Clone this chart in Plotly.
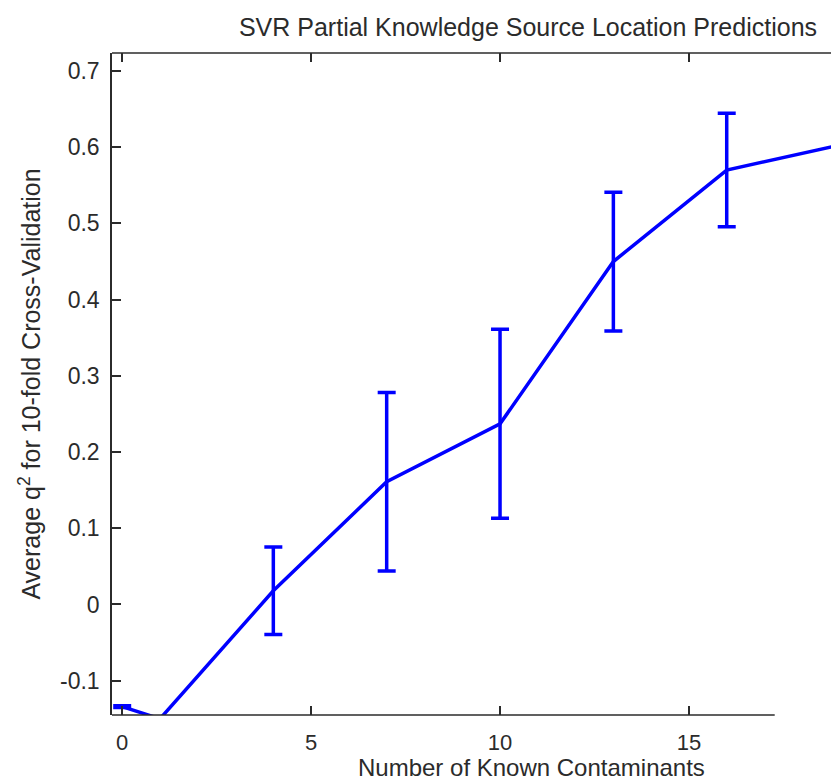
import plotly.graph_objects as go

# data
known = [0, 1, 4, 7, 10, 13, 16, 19]
avg_q2 = [-0.134, -0.150, 0.018, 0.161, 0.237, 0.450, 0.570, 0.603]
err = [0.001, 0.001, 0.0575, 0.117, 0.124, 0.091, 0.0745, 0.068]

x_ticks = [0, 5, 10, 15]
x_tick_text = ["0", "5", "10", "15"]
y_ticks = [-0.1, 0, 0.1, 0.2, 0.3, 0.4, 0.5, 0.6, 0.7]
y_tick_text = ["-0.1", "0", "0.1", "0.2", "0.3", "0.4", "0.5", "0.6", "0.7"]

BLUE = "#0000FF"
AX = "#2b2b2b"
FONT = "Liberation Sans, Arial, sans-serif"

fig = go.Figure()
fig.add_trace(go.Scatter(
    x=known, y=avg_q2, mode="lines",
    line=dict(color=BLUE, width=3.5),
    error_y=dict(type="data", array=err, visible=True, color=BLUE,
                 thickness=3.5, width=9),
    showlegend=False,
))

XR = [-0.27, 18.76]
fig.update_layout(
    width=831, height=783, autosize=False,
    margin=dict(l=112, r=0, t=53, b=68),
    paper_bgcolor="white", plot_bgcolor="white",
    font=dict(family=FONT, color=AX, size=23),
    title=dict(text="SVR Partial Knowledge Source Location Predictions",
               x=528 / 831, xref="container", xanchor="center",
               y=1 - 27 / 783, yref="container", yanchor="middle",
               font=dict(size=25, color=AX)),
    xaxis=dict(range=XR, tickvals=x_ticks, ticktext=x_tick_text,
               ticks="inside", ticklen=9, tickwidth=1.5, tickcolor=AX,
               showline=False, mirror="ticks", showgrid=False, zeroline=False,
               ticklabelstandoff=12, tickfont=dict(size=22)),
    yaxis=dict(range=[-0.145, 0.7236], tickvals=y_ticks, ticktext=y_tick_text,
               ticks="inside", ticklen=9, tickwidth=1.5, tickcolor=AX,
               showline=True, linecolor=AX, linewidth=1.5,
               showgrid=False, zeroline=False, ticklabelstandoff=6,
               title=dict(text="Average q<sup>2</sup> for 10-fold Cross-Validation",
                          font=dict(size=25), standoff=12)),
)

# x-axis title placed like the reference (tight under the tick labels)
fig.add_annotation(text="Number of Known Contaminants", xref="paper", yref="paper",
                   x=(531 - 112) / 719, y=-(783 - 715) / 662,
                   xanchor="center", yanchor="bottom", showarrow=False,
                   font=dict(size=24, color=AX))

# axis box lines (bottom line stops short of the right edge as in the reference)
fig.add_shape(type="line", xref="x", yref="paper", x0=XR[0], x1=17.27, y0=0, y1=0,
              line=dict(color=AX, width=1.5), layer="above")
fig.add_shape(type="line", xref="paper", yref="paper", x0=0, x1=1, y0=1, y1=1,
              line=dict(color=AX, width=1.5), layer="above")

fig.write_html("out.html")
